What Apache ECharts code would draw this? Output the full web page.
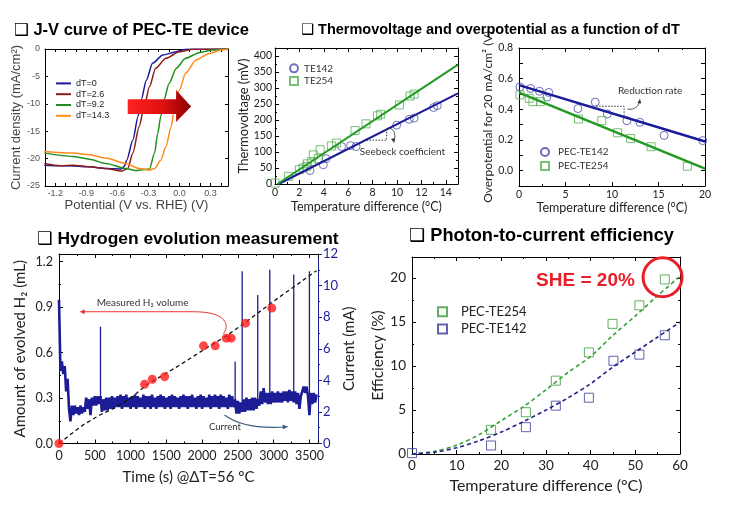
<!DOCTYPE html>
<html><head><meta charset="utf-8">
<script src="https://cdn.jsdelivr.net/npm/echarts@6/dist/echarts.min.js"></script>
<style>html,body{margin:0;padding:0;background:#fff}#c{width:731px;height:514px}</style>
</head><body><div id="c"></div>
<script>
// ---------- DATA ----------
// Panel 1: J-V curves [potential V, current density mA/cm2]
const jvNames = ['dT=0', 'dT=2.6', 'dT=9.2', 'dT=14.3'];
const jvDT0 = [[-1.306,-21.2],[-1.15,-21.3],[-1.03,-21.35],[-0.87,-21.5],[-0.71,-21.8],[-0.56,-21.9],[-0.53,-21.3],[-0.51,-20.3],[-0.45,-16.6],[-0.40,-12.3],[-0.37,-9.3],[-0.32,-5.7],[-0.26,-2.6],[-0.16,-1.1],[-0.03,-0.49],[0.06,-0.06],[0.47,0]];
const jvDT26 = [[-1.306,-20.9],[-1.15,-21.3],[-1.03,-21.2],[-0.87,-21.5],[-0.71,-21.8],[-0.56,-22.3],[-0.50,-21.8],[-0.45,-19.0],[-0.39,-14.2],[-0.34,-10.5],[-0.29,-6.9],[-0.23,-3.5],[-0.13,-1.7],[0.0,-0.49],[0.13,-0.06],[0.47,0]];
const jvDT92 = [[-1.306,-19.0],[-1.03,-19.6],[-0.87,-20.1],[-0.71,-20.9],[-0.52,-21.8],[-0.42,-22.2],[-0.29,-21.9],[-0.24,-19.0],[-0.21,-15.4],[-0.18,-12.3],[-0.15,-9.3],[-0.10,-6.3],[-0.03,-3.5],[0.06,-1.7],[0.19,-0.67],[0.32,-0.18],[0.47,0]];
const jvDT143 = [[-1.306,-18.7],[-1.03,-19.0],[-0.87,-19.3],[-0.71,-19.9],[-0.52,-20.9],[-0.39,-21.8],[-0.29,-22.1],[-0.24,-21.8],[-0.18,-20.3],[-0.13,-17.8],[-0.08,-14.2],[-0.05,-11.1],[0.0,-7.5],[0.06,-4.4],[0.16,-2.0],[0.29,-0.8],[0.40,-0.18],[0.47,-0.06]];

// Panel 2: thermovoltage
const te142X = [2.87,3.96,4.18,5.46,6.2,6.64,9.97,11.0,11.4,13.0,13.3];
const te142Y = [42,60,79,117,120,117,184,202,206,239,245];
const te254X = [0,1.1,2.0,2.3,2.6,2.65,3.0,3.14,3.55,3.7,4.64,5.05,6.56,7.46,8.4,8.66,10.2,11.07,11.4];
const te254Y = [3,24,45,50,55,63,70,91,79,107,119,128,167,188,213,218,247,275,281];
const teFit142 = [[0.3,0],[15,283]];
const teFit254 = [[0.2,0],[15,373]];

// Panel 3: overpotential
const op142X = [0.1,1.26,2.2,3.0,3.2,6.34,8.2,9.5,11.6,13.0,15.6,19.75];
const op142Y = [0.546,0.536,0.518,0.48,0.51,0.405,0.447,0.37,0.326,0.315,0.23,0.196];
const op254X = [0.1,1.1,1.5,2.3,6.4,8.9,10.6,12.0,14.2,18.1];
const op254Y = [0.494,0.472,0.45,0.45,0.337,0.326,0.247,0.21,0.156,0.029];
const opFit142 = [[0,0.558],[20,0.19]];
const opFit254 = [[0,0.509],[20,0.013]];

// Panel 4: hydrogen evolution
const h2Time = [0,1196,1304,1476,2020,2183,2337,2407,2607,2974];
const h2Vol  = [0,0.391,0.424,0.441,0.644,0.644,0.695,0.695,0.794,0.893];
const h2TrendT = [0,150,335,570,800,1030,1220,1500,1730,2020,2340,2610,2975,3600];
const h2TrendV = [0,0.056,0.122,0.188,0.24,0.309,0.386,0.464,0.53,0.618,0.71,0.80,0.93,1.14];
const currentStep = 20; // s between current samples
const currentValues = [9.1,4.6,5.2,4.4,4.9,3.3,4.1,2.2,1.4,2.4,1.8,2.4,1.9,2.3,1.8,2.4,1.9,2.3,2.0,2.9,2.2,2.8,1.8,2.9,2.4,3.0,2.4,3.0,2.5,3.0,2.0,2.8,2.1,2.9,2.1,2.9,2.2,3.0,2.2,2.9,2.3,
3.0,2.3,3.1,2.2,3.0,2.3,3.1,2.3,2.9,2.2,3.0,2.3,3.1,2.2,3.0,2.3,2.9,2.3,3.1,2.2,
3.0,2.3,3.0,2.2,3.1,2.3,2.9,2.2,3.0,2.3,3.1,2.3,3.0,2.2,2.9,2.3,3.0,2.2,3.1,2.3,
3.0,2.3,2.9,2.2,3.0,2.3,3.1,2.3,3.0,2.2,3.0,2.3,3.1,2.3,2.9,2.2,3.0,2.3,3.1,2.2,
3.0,2.3,2.9,2.3,3.1,2.2,3.0,2.3,3.1,2.3,3.0,2.2,3.1,2.3,3.0,2.3,2.9,2.2,3.1,2.3,
3.0,2.3,
2.8,1.9,2.7,1.9,2.6,2.0,2.8,2.0,2.9,2.1,2.8,2.1,2.9,2.1,2.9,2.2,2.8,2.4,3.3,2.5,3.5,2.6,3.2,2.5,3.2,2.5,3.3,2.6,3.2,2.6,3.3,2.6,3.2,2.6,3.3,2.7,3.3,2.6,3.4,2.7,3.3,2.6,3.3,2.5,3.2,2.2,3.0,3.3,3.6,3.2,3.6,3.0,1.8,3.2,2.5,3.2,2.6,3.1];
const spikeTimes = [580,2462,2560,2778,2946,3281,3500];
const spikePeaks = [7.4,5.2,10.9,9.4,11.0,10.7,10.9];
const spikeBases = [2.8,2.7,2.6,2.6,2.8,2.9,3.0];

// Panel 5: photon-to-current efficiency
const pt254X = [17.7,25.5,32.2,39.6,44.9,50.9,56.6];
const pt254Y = [2.75,4.75,8.34,11.55,14.8,16.9,19.85];
const pt142X = [0,17.7,25.5,32.2,39.6,45.1,50.9,56.6];
const pt142Y = [0.1,0.97,3.05,5.5,6.4,10.6,11.3,13.5];
const ptFitX = [0,5,10,15,20,25,30,35,40,45,50,55,60];
const ptFit254 = [0,0.3,1.0,2.2,3.8,5.4,7.3,9.3,11.1,13.5,15.7,18.0,20.2];
const ptFit142 = [0,0.2,0.7,1.5,2.5,3.7,5.0,6.4,8.0,9.9,11.6,13.3,15.0];

// ---------- BUILD ----------
const zip = (a, b) => a.map((v, i) => [v, b[i]]);
const currentTrace = currentValues.map((v, i) => [i * currentStep, v]);
const spikeData = [];
spikeTimes.forEach((t, i) => { spikeData.push([t, spikeBases[i]], [t, spikePeaks[i]], [t, null]); });

const ARIAL = 'Liberation Sans, Arial, sans-serif';
const CAL = 'Lato, Carlito, sans-serif';
const NAVY = '#1c1c96';

function axisBase(o) {
  const a = {
    type: 'value', splitLine: { show: false },
    axisLine: { show: true, onZero: false, lineStyle: { color: o.lineColor || '#000', width: 1 } },
    axisTick: { show: true, inside: o.inside !== false, length: o.tickLen || 4, lineStyle: { color: o.lineColor || '#000' } },
    minorTick: { show: !!o.minor, splitNumber: o.minor || 2, length: 2, lineStyle: { color: o.lineColor || '#000' } },
    axisLabel: { show: !o.mirror, fontSize: o.fs || 10, color: o.labelColor || '#222', fontFamily: o.ff || CAL, margin: o.margin || 4, showMaxLabel: o.showMax === undefined ? true : o.showMax, formatter: o.fmt || (v => String(v)) },
    min: o.min, max: o.max, interval: o.interval, gridIndex: o.grid
  };
  if (o.position) a.position = o.position;
  if (o.name) {
    a.name = o.name; a.nameLocation = 'middle'; a.nameGap = o.nameGap;
    a.nameTextStyle = { fontSize: o.nfs, color: o.nameColor || '#222', fontFamily: o.ff || CAL };
  }
  return a;
}

const jvFmt = v => { const r = v / 0.3; return Math.abs(r - Math.round(r)) < 1e-6 ? v.toFixed(1) : ''; };
const opFmt = v => { const r = v / 0.2; return (v > -0.05 && Math.abs(r - Math.round(r)) < 1e-6) ? v.toFixed(1) : ''; };

const xAxis = [
  axisBase({ grid: 0, min: -1.3, max: 0.47, interval: 0.1, fmt: jvFmt, fs: 9, ff: ARIAL, labelColor: '#555', margin: 3, tickLen: 3, showMax: false, name: 'Potential (V vs. RHE) (V)', nameGap: 12, nfs: 13, nameColor: '#444' }),
  axisBase({ grid: 0, min: -1.3, max: 0.47, interval: 0.1, mirror: true, position: 'top', tickLen: 3 }),
  axisBase({ grid: 1, min: 0, max: 15, interval: 2, minor: 2, fs: 10.5, margin: 3, showMax: false, name: 'Temperature difference (°C)', nameGap: 16, nfs: 12.5 }),
  axisBase({ grid: 1, min: 0, max: 15, interval: 2, minor: 2, mirror: true, position: 'top' }),
  axisBase({ grid: 2, min: 0, max: 20, interval: 5, minor: 2, fs: 10.5, margin: 3, name: 'Temperature difference (°C)', nameGap: 15, nfs: 12.5 }),
  axisBase({ grid: 2, min: 0, max: 20, interval: 5, minor: 2, mirror: true, position: 'top' }),
  axisBase({ grid: 3, min: 0, max: 3620, interval: 500, minor: 2, fs: 12.5, margin: 6, showMax: false, name: 'Time (s) @ΔT=56 °C', nameGap: 26, nfs: 15 }),
  axisBase({ grid: 3, min: 0, max: 3620, interval: 500, minor: 2, mirror: true, position: 'top' }),
  axisBase({ grid: 4, min: 0, max: 60, interval: 10, minor: 2, fs: 13.5, margin: 5, name: 'Temperature difference (°C)', nameGap: 24, nfs: 16 }),
  axisBase({ grid: 4, min: 0, max: 60, interval: 10, minor: 2, mirror: true, position: 'top' })
];
const yAxis = [
  axisBase({ grid: 0, min: -25, max: 0, interval: 5, fs: 9, ff: ARIAL, labelColor: '#555', margin: 5, tickLen: 3, name: 'Current density (mA/cm²)', nameGap: 18, nfs: 13, nameColor: '#444' }),
  axisBase({ grid: 0, min: -25, max: 0, interval: 5, mirror: true, position: 'right', tickLen: 3 }),
  axisBase({ grid: 1, min: 0, max: 425, interval: 50, minor: 2, fs: 10.5, margin: 3, showMax: false, name: 'Thermovoltage (mV)', nameGap: 18, nfs: 13 }),
  axisBase({ grid: 1, min: 0, max: 425, interval: 50, minor: 2, mirror: true, position: 'right' }),
  axisBase({ grid: 2, min: -0.1, max: 0.8, interval: 0.1, fmt: opFmt, fs: 10.5, margin: 6, name: 'Overpotential for 20 mA/cm² (V)', nameGap: 20, nfs: 12 }),
  axisBase({ grid: 2, min: -0.1, max: 0.8, interval: 0.1, mirror: true, position: 'right' }),
  axisBase({ grid: 3, min: 0, max: 1.25, interval: 0.3, minor: 2, fs: 12.5, margin: 6, showMax: false, fmt: v => v.toFixed(1), name: 'Amount of evolved H₂ (mL)', nameGap: 31, nfs: 15 }),
  axisBase({ grid: 3, min: 0, max: 12, interval: 2, minor: 2, position: 'right', inside: false, lineColor: NAVY, labelColor: NAVY, fs: 13, margin: 5, name: 'Current (mA)', nameGap: 17, nfs: 15 }),
  axisBase({ grid: 4, min: 0, max: 22.4, interval: 5, minor: 2, fs: 13.5, margin: 6, showMax: false, name: 'Efficiency (%)', nameGap: 21, nfs: 15.5 }),
  axisBase({ grid: 4, min: 0, max: 22.4, interval: 5, minor: 2, mirror: true, position: 'right' })
];

const hollow = (c, w) => ({ color: 'rgba(255,255,255,0)', borderColor: c, borderWidth: w || 1 });

const series = [
  // Panel 1
  { name: jvNames[0], type: 'line', xAxisIndex: 0, yAxisIndex: 0, data: jvDT0, symbol: 'none', smooth: 0.25, smoothMonotone: 'x', lineStyle: { color: '#1a1a9a', width: 1.5 }, itemStyle: { color: '#1a1a9a' } },
  { name: jvNames[1], type: 'line', xAxisIndex: 0, yAxisIndex: 0, data: jvDT26, symbol: 'none', smooth: 0.25, smoothMonotone: 'x', lineStyle: { color: '#8b1c1c', width: 1.5 }, itemStyle: { color: '#8b1c1c' } },
  { name: jvNames[2], type: 'line', xAxisIndex: 0, yAxisIndex: 0, data: jvDT92, symbol: 'none', smooth: 0.25, smoothMonotone: 'x', lineStyle: { color: '#1f8f1f', width: 1.5 }, itemStyle: { color: '#1f8f1f' } },
  { name: jvNames[3], type: 'line', xAxisIndex: 0, yAxisIndex: 0, data: jvDT143, symbol: 'none', smooth: 0.25, smoothMonotone: 'x', lineStyle: { color: '#ff8c1a', width: 1.5 }, itemStyle: { color: '#ff8c1a' } },
  // Panel 2
  { name: 'TE142', type: 'scatter', xAxisIndex: 2, yAxisIndex: 2, data: zip(te142X, te142Y), symbol: 'circle', symbolSize: 8, itemStyle: hollow('#5050ac') },
  { name: 'TE254', type: 'scatter', xAxisIndex: 2, yAxisIndex: 2, data: zip(te254X, te254Y), symbol: 'rect', symbolSize: 8, itemStyle: hollow('#55b055') },
  { type: 'line', xAxisIndex: 2, yAxisIndex: 2, data: teFit142, symbol: 'none', lineStyle: { color: '#1a1a9a', width: 2 } },
  { type: 'line', xAxisIndex: 2, yAxisIndex: 2, data: teFit254, symbol: 'none', lineStyle: { color: '#229a22', width: 2 } },
  // Panel 3
  { name: 'op142', type: 'scatter', xAxisIndex: 4, yAxisIndex: 4, data: zip(op142X, op142Y), symbol: 'circle', symbolSize: 8, itemStyle: hollow('#4848ac') },
  { name: 'op254', type: 'scatter', xAxisIndex: 4, yAxisIndex: 4, data: zip(op254X, op254Y), symbol: 'rect', symbolSize: 8, itemStyle: hollow('#55b055') },
  { type: 'line', xAxisIndex: 4, yAxisIndex: 4, data: opFit142, symbol: 'none', lineStyle: { color: '#1a1a9a', width: 2.5 } },
  { type: 'line', xAxisIndex: 4, yAxisIndex: 4, data: opFit254, symbol: 'none', lineStyle: { color: '#229a22', width: 2.5 } },
  // Panel 4
  { type: 'line', xAxisIndex: 6, yAxisIndex: 7, data: currentTrace, symbol: 'none', lineStyle: { color: NAVY, width: 2.6, join: 'bevel' }, z: 2 },
  { type: 'line', xAxisIndex: 6, yAxisIndex: 7, data: spikeData, symbol: 'none', connectNulls: false, lineStyle: { color: NAVY, width: 1.3 }, z: 2 },
  { type: 'line', xAxisIndex: 6, yAxisIndex: 6, data: zip(h2TrendT, h2TrendV), symbol: 'none', lineStyle: { color: '#111', width: 1.3, type: [4, 3] }, z: 3 },
  { type: 'scatter', xAxisIndex: 6, yAxisIndex: 6, data: zip(h2Time, h2Vol), symbol: 'circle', symbolSize: 9, itemStyle: { color: '#ff1a1a' }, z: 4 },
  // Panel 5
  { name: 'pt254', type: 'scatter', xAxisIndex: 8, yAxisIndex: 8, data: zip(pt254X, pt254Y), symbol: 'rect', symbolSize: 9, itemStyle: hollow('#3c9a3c') },
  { name: 'pt142', type: 'scatter', xAxisIndex: 8, yAxisIndex: 8, data: zip(pt142X, pt142Y), symbol: 'rect', symbolSize: 9, itemStyle: hollow('#3a3a9a') },
  { type: 'line', xAxisIndex: 8, yAxisIndex: 8, data: zip(ptFitX, ptFit254), symbol: 'none', smooth: 0.3, lineStyle: { color: '#3aa03a', width: 1.6, type: [4, 3] } },
  { type: 'line', xAxisIndex: 8, yAxisIndex: 8, data: zip(ptFitX, ptFit142), symbol: 'none', smooth: 0.3, lineStyle: { color: '#22228a', width: 1.6, type: [4, 3] } }
];

const legendLabels = { op142: 'PEC-TE142', op254: 'PEC-TE254', pt142: 'PEC-TE142', pt254: 'PEC-TE254' };
const lgFmt = n => legendLabels[n] || n;
const legend = [
  { data: jvNames, orient: 'vertical', left: 55, top: 78, itemWidth: 15, itemHeight: 2, itemGap: 0, padding: 0, selectedMode: false,
    textStyle: { fontSize: 9, lineHeight: 10.8, color: '#222', fontFamily: ARIAL } },
  { data: ['TE142', 'TE254'], orient: 'vertical', left: 289, top: 62, itemWidth: 8, itemHeight: 8, itemGap: 0, padding: 0, selectedMode: false,
    textStyle: { fontSize: 10, lineHeight: 12.7, color: '#333', fontFamily: CAL, padding: [0, 0, 0, 1] } },
  { data: ['op142', 'op254'], formatter: lgFmt, orient: 'vertical', left: 540, top: 145, itemWidth: 8, itemHeight: 8, itemGap: 0, padding: 0, selectedMode: false,
    textStyle: { fontSize: 10, lineHeight: 14, color: '#333', fontFamily: CAL, padding: [0, 0, 0, 4] } },
  { data: ['pt254', 'pt142'], formatter: lgFmt, orient: 'vertical', left: 437, top: 303, itemWidth: 9, itemHeight: 9, itemGap: 0, padding: 0, selectedMode: false,
    textStyle: { fontSize: 13, lineHeight: 17.4, color: '#222', fontFamily: CAL, padding: [0, 0, 0, 9] } }
];

const option = {
  backgroundColor: '#fff',
  animation: false,
  grid: [
    { left: 45, top: 49, width: 183, height: 137 },
    { left: 275, top: 48, width: 183, height: 136 },
    { left: 519, top: 48, width: 186, height: 138 },
    { left: 59, top: 254, width: 259, height: 189.5 },
    { left: 412, top: 257, width: 268, height: 197 }
  ],
  xAxis, yAxis, legend, series
};

const chart = echarts.init(document.getElementById('c'), null, { renderer: 'canvas' });
chart.setOption(option);

// ---------- ANNOTATIONS ----------
const P = (xi, yi, x, y) => chart.convertToPixel({ xAxisIndex: xi, yAxisIndex: yi }, [x, y]);
function arrowHead(tip, from, size, color) {
  const dx = tip[0] - from[0], dy = tip[1] - from[1], L = Math.hypot(dx, dy) || 1;
  const ux = dx / L, uy = dy / L, px = -uy, py = ux;
  return { type: 'polygon', shape: { points: [tip, [tip[0] - ux * size + px * size * 0.5, tip[1] - uy * size + py * size * 0.5], [tip[0] - ux * size - px * size * 0.5, tip[1] - uy * size - py * size * 0.5]] }, style: { fill: color }, z: 100 };
}
function title(x, y, text, fs) {
  return { type: 'text', x, y, z: 100, style: { text, fontSize: fs, fontWeight: 'bold', fontFamily: 'Liberation Sans, DejaVu Sans, sans-serif', fill: '#000', textVerticalAlign: 'middle' } };
}
const g = [];
g.push(title(14, 30, '❑ J-V curve of PEC-TE device', 16.5));
g.push(title(301, 30, '❑ Thermovoltage and overpotential as a function of dT', 14.5));
g.push(title(37, 239, '❑ Hydrogen evolution measurement', 17.4));
g.push(title(409, 236, '❑ Photon-to-current efficiency', 18.2));

// J-V red arrow
{
  const L = P(0, 0, -0.50, -9.18)[0], H = P(0, 0, -0.032, 0)[0], T = P(0, 0, 0.113, 0)[0];
  const st = P(0, 0, 0, -9.18)[1], sb = P(0, 0, 0, -11.86)[1], ht = P(0, 0, 0, -7.5)[1], hb = P(0, 0, 0, -13.3)[1], c = P(0, 0, 0, -10.5)[1];
  g.push({ type: 'polygon', z: 100, shape: { points: [[L, st], [H, st], [H, ht], [T, c], [H, hb], [H, sb], [L, sb]] },
    style: { fill: new echarts.graphic.LinearGradient(0, 0, 1, 0, [{ offset: 0, color: '#ff2222' }, { offset: 0.55, color: '#e01010' }, { offset: 1, color: '#8b0000' }]) } });
}
// Seebeck annotation
{
  const a = P(2, 2, 7.5, 137), b = P(2, 2, 9.15, 137), c = P(2, 2, 9.15, 170);
  g.push({ type: 'polyline', z: 100, shape: { points: [a, b, c] }, style: { stroke: '#333', lineWidth: 1, lineDash: [1.5, 1.5], fill: null } });
  const s = P(2, 2, 9.3, 176), e = P(2, 2, 9.75, 130);
  g.push({ type: 'bezierCurve', z: 100, shape: { x1: s[0], y1: s[1], cpx1: s[0] + 9, cpy1: s[1] + 2, x2: e[0], y2: e[1] }, style: { stroke: '#333', lineWidth: 0.8, fill: null } });
  g.push(arrowHead(e, [e[0] - 1, e[1] - 4], 4, '#333'));
  const t = P(2, 2, 10.45, 100);
  g.push({ type: 'text', x: t[0], y: t[1], z: 100, style: { text: 'Seebeck coefficient', fontSize: 10, fontFamily: CAL, fill: '#333', textAlign: 'center', textVerticalAlign: 'middle' } });
}
// Reduction rate annotation
{
  const a = P(4, 4, 8.3, 0.42), b = P(4, 4, 11.3, 0.42), c = P(4, 4, 11.3, 0.355);
  g.push({ type: 'polyline', z: 100, shape: { points: [a, b, c] }, style: { stroke: '#333', lineWidth: 1, lineDash: [1.5, 1.5], fill: null } });
  const s = P(4, 4, 11.65, 0.40), e = P(4, 4, 13.0, 0.465);
  g.push({ type: 'bezierCurve', z: 100, shape: { x1: s[0], y1: s[1], cpx1: e[0] - 1, cpy1: s[1] + 1, x2: e[0], y2: e[1] }, style: { stroke: '#333', lineWidth: 0.8, fill: null } });
  g.push(arrowHead(e, [e[0] - 0.5, e[1] + 4], 4, '#333'));
  const t = P(4, 4, 14.1, 0.52);
  g.push({ type: 'text', x: t[0], y: t[1], z: 100, style: { text: 'Reduction rate', fontSize: 10, fontFamily: CAL, fill: '#333', textAlign: 'center', textVerticalAlign: 'middle' } });
}
// Hydrogen annotations
{
  const t = P(6, 6, 1168, 0.928);
  g.push({ type: 'text', x: t[0], y: t[1], z: 100, style: { text: 'Measured H₂ volume', fontSize: 10, fontFamily: CAL, fill: '#333', textAlign: 'center', textVerticalAlign: 'middle' } });
  const tip = P(6, 6, 289, 0.869), m = P(6, 6, 1894, 0.869), c1 = P(6, 6, 2271, 0.869), c2 = P(6, 6, 2411, 0.802), e = P(6, 6, 2299, 0.723);
  g.push({ type: 'polyline', z: 100, shape: { points: [[tip[0] + 3, tip[1]], m] }, style: { stroke: '#e83030', lineWidth: 1, fill: null } });
  g.push({ type: 'bezierCurve', z: 100, shape: { x1: m[0], y1: m[1], cpx1: c1[0], cpy1: c1[1], cpx2: c2[0], cpy2: c2[1], x2: e[0], y2: e[1] }, style: { stroke: '#e83030', lineWidth: 1, fill: null } });
  g.push(arrowHead(tip, [tip[0] + 5, tip[1]], 5, '#e83030'));
  const ct = P(6, 7, 2320, 1.03);
  g.push({ type: 'text', x: ct[0], y: ct[1], z: 100, style: { text: 'Current', fontSize: 9.5, fontFamily: CAL, fill: '#333', textAlign: 'center', textVerticalAlign: 'middle' } });
  const s = P(6, 7, 2313, 1.8), q = P(6, 7, 2593, 0.85), en = P(6, 7, 3197, 1.06);
  g.push({ type: 'bezierCurve', z: 100, shape: { x1: s[0], y1: s[1], cpx1: q[0], cpy1: q[1], x2: en[0], y2: en[1] }, style: { stroke: '#3d5f80', lineWidth: 1.2, fill: null } });
  g.push(arrowHead(en, [en[0] - 5, en[1] + 0.3], 5, '#3d5f80'));
}
// SHE annotation
{
  const t = P(8, 8, 38.84, 19.74);
  g.push({ type: 'text', x: t[0], y: t[1], z: 100, style: { text: 'SHE = 20%', fontSize: 19, fontWeight: 'bold', fontFamily: ARIAL, fill: '#e8202a', textAlign: 'center', textVerticalAlign: 'middle' } });
  const c = P(8, 8, 56.1, 20.1);
  g.push({ type: 'circle', z: 100, shape: { cx: c[0], cy: c[1], r: 19.5 }, style: { stroke: '#e8202a', lineWidth: 3, fill: null } });
}
chart.setOption({ graphic: g });
</script></body></html>
